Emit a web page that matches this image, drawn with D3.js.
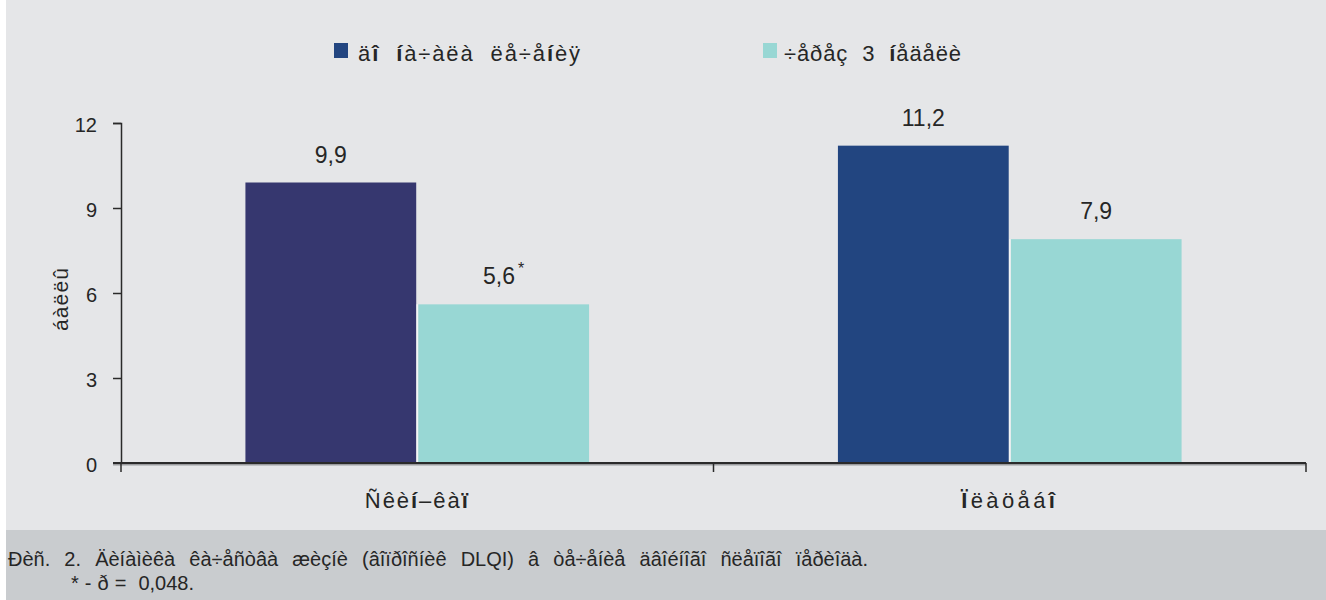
<!DOCTYPE html>
<html>
<head>
<meta charset="utf-8">
<script src="https://cdn.jsdelivr.net/npm/d3@7"></script>
<style>
  body { margin: 0; background: #fff; }
  svg { display: block; font-family: "Liberation Sans", Arial, sans-serif; }
  text { white-space: pre; }
</style>
</head>
<body>
<svg id="chart" width="1326" height="600"></svg>
<script>
// data
const categories = ["Ñêèí–êàï", "Ïëàöåáî"];
const seriesNames = ["äî  íà÷àëà  ëå÷åíèÿ", "÷åðåç  3  íåäåëè"];
const beforeValues = [9.9, 11.2];
const afterValues = [5.6, 7.9];
const valueLabels = [["9,9", "5,6"], ["11,2", "7,9"]];
const starred = [[false, true], [false, false]];
const yTicks = [0, 3, 6, 9, 12];
const yTitle = "áàëëû";
const captionLines = [
  "Ðèñ. 2. Äèíàìèêà êà÷åñòâà æèçíè (âîïðîñíèê DLQI) â òå÷åíèå äâîéíîãî ñëåïîãî ïåðèîäà.",
  "* - ð =  0,048."
];

const darkColors = ["#36376f", "#224580"];
const lightColor = "#98d7d4";
const textColor = "#262626";

const svg = d3.select("#chart");

// stretch a text's spacing so it covers the width seen in the picture
function fitWidth(node, target, prop) {
  const w = node.getComputedTextLength();
  const s = d3.select(node);
  if (prop === "word") {
    const n = (node.textContent.match(/ /g) || []).length || 1;
    s.attr("word-spacing", Math.max(0, (target - w) / n));
  } else {
    const n = node.textContent.length;
    s.attr("letter-spacing", (target - w) / n);
  }
}

// panels
svg.append("rect").attr("x", 6).attr("y", 0).attr("width", 1320).attr("height", 530).attr("fill", "#e5e6e8");
svg.append("rect").attr("x", 6).attr("y", 530).attr("width", 1320).attr("height", 70).attr("fill", "#c9cccf");

const margin = {left: 121, right: 20, top: 123, bottom: 137};
const plotW = 1326 - margin.left - margin.right;
const plotH = 600 - margin.top - margin.bottom;

const x = d3.scaleBand().domain(categories).range([margin.left, margin.left + plotW]);
const groupW = x.bandwidth() * 0.58;
const xSub = d3.scaleBand().domain(d3.range(2))
  .range([(x.bandwidth() - groupW) / 2, (x.bandwidth() + groupW) / 2])
  .paddingInner(0.012);
const y = d3.scaleLinear().domain([0, 12]).range([margin.top + plotH, margin.top]);

// glyphs that the original rendered heavier
function boldify(sel, str) {
  str.split("").forEach(ch => {
    const t = sel.append("tspan").text(ch);
    if ("íîïÏ".includes(ch)) t.attr("font-weight", "bold");
  });
}

// bars
const rows = categories.map((c, i) => ({cat: c, i, vals: [beforeValues[i], afterValues[i]]}));
const groups = svg.selectAll("g.grp").data(rows).join("g")
  .attr("class", "grp")
  .attr("transform", d => `translate(${x(d.cat)},0)`);

const cells = d => d.vals.map((v, j) => ({v, j, i: d.i}));

groups.selectAll("rect").data(cells).join("rect")
  .attr("x", d => xSub(d.j))
  .attr("width", xSub.bandwidth())
  .attr("y", d => y(d.v))
  .attr("height", d => y(0) - y(d.v))
  .attr("fill", d => d.j === 0 ? darkColors[d.i] : lightColor);

// thin white seam between the two bars of a pair
groups.append("line")
  .attr("x1", d => xSub(1) - xSub.step() * xSub.paddingInner() / 2)
  .attr("x2", d => xSub(1) - xSub.step() * xSub.paddingInner() / 2)
  .attr("y1", d => y(Math.min(...d.vals)))
  .attr("y2", y(0))
  .attr("stroke", "#f4f5f6").attr("stroke-width", 1.5);

groups.selectAll("text.val").data(cells).join("text")
  .attr("class", "val")
  .attr("x", d => xSub(d.j) + xSub.bandwidth() / 2)
  .attr("y", d => y(d.v) - 20)
  .attr("text-anchor", "middle")
  .attr("font-size", 23)
  .attr("fill", textColor)
  .each(function(d) {
    const t = d3.select(this);
    t.append("tspan").text(valueLabels[d.i][d.j]);
    if (starred[d.i][d.j]) {
      t.append("tspan").attr("dx", 3).attr("dy", -10).attr("font-size", 16).text("*");
    }
  });

// y axis
const yAxis = svg.append("g")
  .attr("transform", `translate(${margin.left},0)`)
  .call(d3.axisLeft(y).tickValues(yTicks).tickSize(8).tickPadding(16).tickFormat(d3.format("d")));
yAxis.select(".domain").attr("stroke", "#2a2a2a").attr("stroke-width", 1.5);
yAxis.selectAll(".tick line").attr("stroke", "#2a2a2a").attr("stroke-width", 1.5);
yAxis.selectAll(".tick text").attr("font-size", 20).attr("fill", textColor)
  .attr("dy", "0.4em")
  .attr("font-family", "Liberation Sans, Arial, sans-serif");

svg.append("text")
  .attr("transform", `translate(68,${(y(0) + y(12)) / 2 + 6}) rotate(-90)`)
  .attr("text-anchor", "middle")
  .attr("font-size", 21)
  .attr("fill", textColor)
  .text(yTitle)
  .each(function() { fitWidth(this, 64); });

// x axis
const x0 = y(0);
svg.append("line")
  .attr("x1", margin.left - 8).attr("x2", margin.left + plotW)
  .attr("y1", x0 + 1.5).attr("y2", x0 + 1.5)
  .attr("stroke", "#9a9b9e").attr("stroke-width", 2);
svg.append("line")
  .attr("x1", margin.left - 8).attr("x2", margin.left + plotW)
  .attr("y1", x0).attr("y2", x0)
  .attr("stroke", "#2a2a2a").attr("stroke-width", 2);
const bounds = [margin.left].concat(categories.map(c => x(c) + x.bandwidth()));
svg.selectAll("line.xtick").data(bounds).join("line")
  .attr("class", "xtick")
  .attr("x1", d => d).attr("x2", d => d)
  .attr("y1", x0).attr("y2", x0 + 9)
  .attr("stroke", "#2a2a2a").attr("stroke-width", 1.5);

const catWidths = [105, 97];
svg.selectAll("text.cat").data(categories).join("text")
  .attr("class", "cat")
  .attr("x", d => x(d) + x.bandwidth() / 2)
  .attr("y", x0 + 45)
  .attr("text-anchor", "middle")
  .attr("font-size", 22)
  .attr("fill", textColor)
  .each(function(d, i) { boldify(d3.select(this), d); fitWidth(this, catWidths[i]); });

// legend
const legendX = [334, 763];
const legendTextX = [24, 21];
const legendWidths = [224, 178];
const legend = svg.selectAll("g.leg").data(seriesNames).join("g")
  .attr("class", "leg")
  .attr("transform", (d, i) => `translate(${legendX[i]},43)`);
legend.append("rect").attr("width", 14).attr("height", 15)
  .attr("fill", (d, i) => i === 0 ? darkColors[1] : lightColor);
legend.append("text")
  .attr("x", (d, i) => legendTextX[i])
  .attr("y", 18)
  .attr("font-size", 22)
  .attr("fill", textColor)
  .each(function(d, i) { boldify(d3.select(this), d); fitWidth(this, legendWidths[i]); });

// caption
const captionWidths = [860, 123];
svg.selectAll("text.cap").data(captionLines).join("text")
  .attr("class", "cap")
  .attr("x", (d, i) => i === 0 ? 8 : 71)
  .attr("y", (d, i) => 566 + i * 24)
  .attr("font-size", 20)
  .attr("font-family", "'Liberation Sans Narrow', 'Liberation Sans', Arial, sans-serif")
  .attr("fill", textColor)
  .text(d => d)
  .each(function(d, i) { fitWidth(this, captionWidths[i], "word"); });
</script>
</body>
</html>
